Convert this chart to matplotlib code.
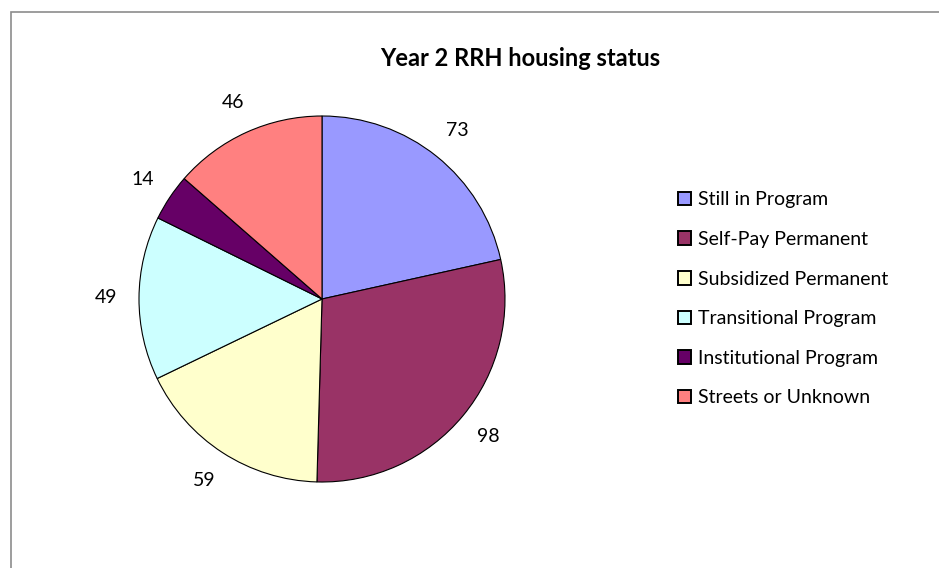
import matplotlib.pyplot as plt
from matplotlib.patches import Rectangle

# data
categories = ["Still in Program", "Self-Pay Permanent", "Subsidized Permanent",
              "Transitional Program", "Institutional Program", "Streets or Unknown"]
values = [73, 98, 59, 49, 14, 46]
colors = ["#9999FF", "#993366", "#FFFFCC", "#CCFFFF", "#660066", "#FF8080"]

plt.rcParams['font.family'] = ['Lato', 'DejaVu Sans']

W, H = 939, 568
fig = plt.figure(figsize=(W / 100, H / 100), dpi=100)
ax = fig.add_axes([0, 0, 1, 1])

# outer chart border (runs off the right/bottom edge)
ax.add_patch(Rectangle((11, -10), W + 20, H - 12 + 10, fill=False,
                       edgecolor='#8c8c8c', linewidth=1.2))

wedges, texts = ax.pie(values, colors=colors, labels=[str(v) for v in values],
                       startangle=90, counterclock=False,
                       center=(322, H - 299), radius=183,
                       labeldistance=1.18, frame=True,
                       wedgeprops=dict(edgecolor='black', linewidth=0.8),
                       textprops=dict(fontsize=14, color='black'))
for t in texts:
    t.set_horizontalalignment('center')
    t.set_verticalalignment('center')
ax.set_xlim(0, W)
ax.set_ylim(0, H)
ax.set_aspect('equal')
ax.axis('off')

ax.text(520, H - 58, "Year 2 RRH housing status", ha='center', va='center',
        fontsize=17, fontweight='bold')

leg = ax.legend(wedges, categories, loc='upper left',
                bbox_to_anchor=(660 / W, 1 - 174 / H), frameon=False,
                fontsize=14, handlelength=0.7, handleheight=0.7,
                handletextpad=0.35, labelspacing=1.16)
for h in leg.legend_handles:
    h.set_edgecolor('black')
    h.set_linewidth(1.4)

fig.savefig("out.png", dpi=100, facecolor='white')
